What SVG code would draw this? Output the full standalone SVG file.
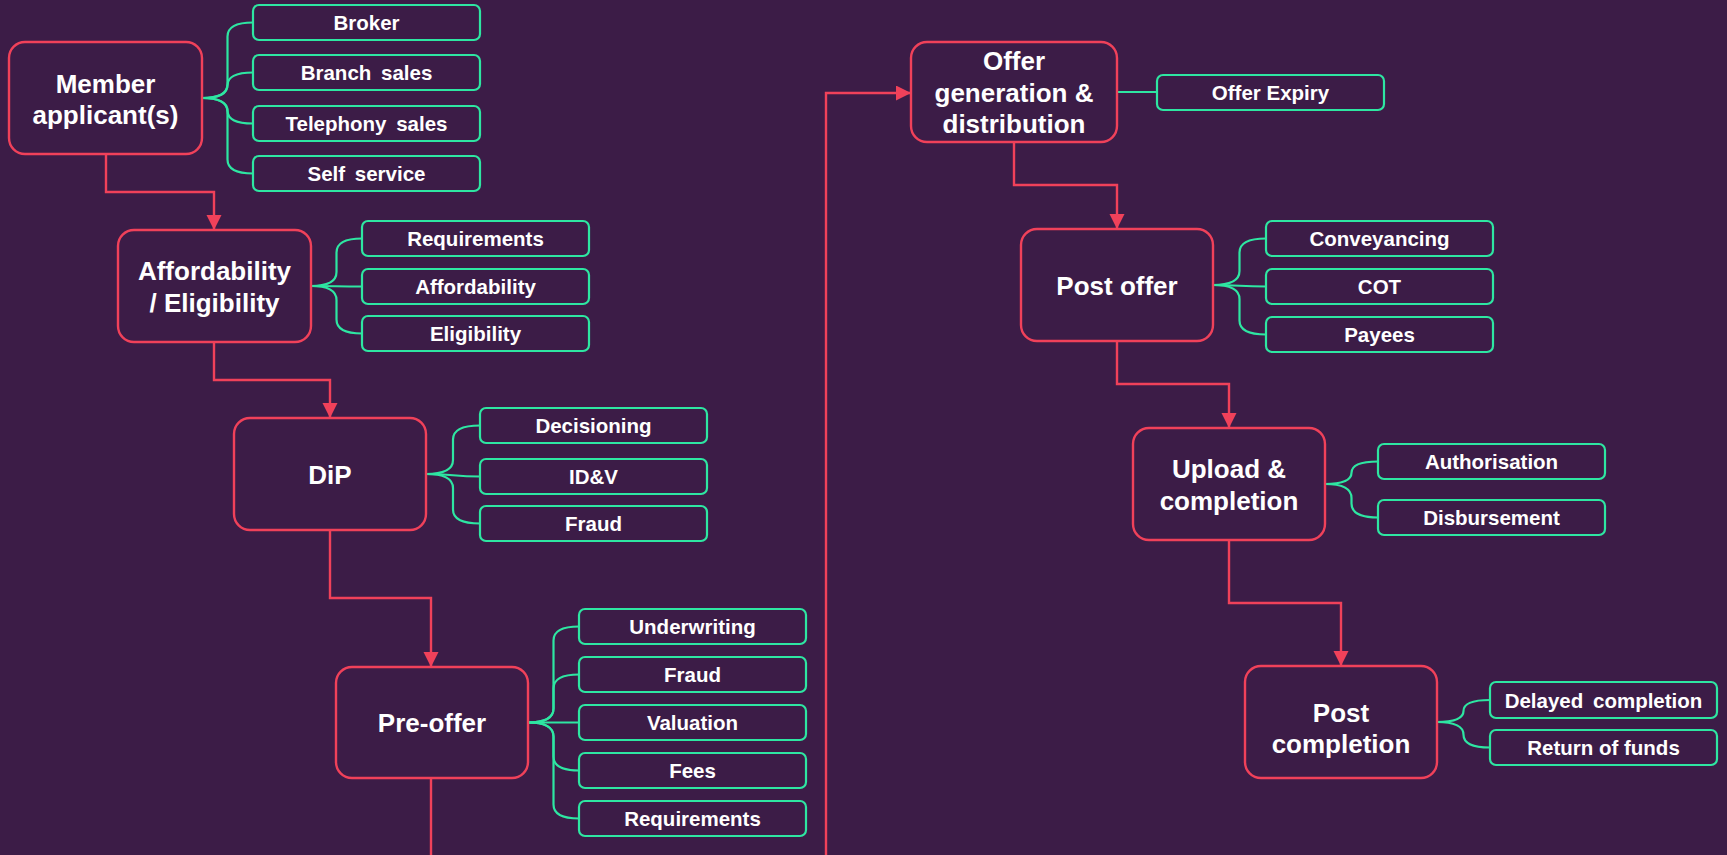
<svg xmlns="http://www.w3.org/2000/svg" width="1727" height="855" viewBox="0 0 1727 855">
<style>
.bg{fill:#3c1c47}
.node rect.main{fill:#3c1c47;stroke:#f0415a;stroke-width:2.4}
.node rect.sub{fill:#3c1c47;stroke:#2ee6a2;stroke-width:2.2}
.nt{font-family:"Liberation Sans",Arial,sans-serif;font-weight:bold;font-size:26px;fill:#ffffff;text-anchor:middle}
.st{font-family:"Liberation Sans",Arial,sans-serif;font-weight:bold;font-size:20.5px;fill:#ffffff;text-anchor:middle}
.ws{word-spacing:4px}
.flow path{fill:none;stroke:#f0415a;stroke-width:2.4;marker-end:url(#arr)}
.branch path{fill:none;stroke:#2ee6a2;stroke-width:2.2}
</style>
<defs>
<marker id="arr" markerUnits="userSpaceOnUse" markerWidth="16" markerHeight="16" refX="15" refY="7.5" orient="auto">
<path d="M0,0 L15,7.5 L0,15 z" fill="#f0415a"/>
</marker>
</defs>
<rect class="bg" x="0" y="0" width="1727" height="855"/>

<g id="connectors">
<g class="flow">
<path d="M106,154 V192 H214 V230"/>
<path d="M214,342 V380 H330 V418"/>
<path d="M330,530 V598 H431 V667"/>
<path d="M431,778 V875 H826 V93 H911"/>
<path d="M1014,142 V185 H1117 V229"/>
<path d="M1117,341 V384 H1229 V428"/>
<path d="M1229,540 V603 H1341 V666"/>
</g>
<g class="branch">
<path d="M202,98 Q227.5,98 227.5,84 V36.5 Q227.5,22.5 253,22.5"/>
<path d="M202,98 Q227.5,98 227.5,85.25 Q227.5,72.5 253,72.5"/>
<path d="M202,98 Q227.5,98 227.5,110.75 Q227.5,123.5 253,123.5"/>
<path d="M202,98 Q227.5,98 227.5,112 V159.5 Q227.5,173.5 253,173.5"/>

<path d="M311,286 Q336.5,286 336.5,272 V252.5 Q336.5,238.5 362,238.5"/>
<path d="M311,286 C336.5,286 336.5,286.5 362,286.5"/>
<path d="M311,286 Q336.5,286 336.5,300 V319.5 Q336.5,333.5 362,333.5"/>

<path d="M426,474 Q453,474 453,460 V439.5 Q453,425.5 480,425.5"/>
<path d="M426,474 C453,474 453,476.5 480,476.5"/>
<path d="M426,474 Q453,474 453,488 V509.5 Q453,523.5 480,523.5"/>

<path d="M528,722.5 Q553.5,722.5 553.5,708.5 V640.5 Q553.5,626.5 579,626.5"/>
<path d="M528,722.5 Q553.5,722.5 553.5,708.5 V688.5 Q553.5,674.5 579,674.5"/>
<path d="M528,722.5 H579"/>
<path d="M528,722.5 Q553.5,722.5 553.5,736.5 V756.5 Q553.5,770.5 579,770.5"/>
<path d="M528,722.5 Q553.5,722.5 553.5,736.5 V804.5 Q553.5,818.5 579,818.5"/>

<path d="M1117,92 H1157"/>

<path d="M1213,285 Q1239.5,285 1239.5,271 V252.5 Q1239.5,238.5 1266,238.5"/>
<path d="M1213,285 C1239.5,285 1239.5,286.5 1266,286.5"/>
<path d="M1213,285 Q1239.5,285 1239.5,299 V320.5 Q1239.5,334.5 1266,334.5"/>

<path d="M1325,484 Q1351.5,484 1351.5,472.75 Q1351.5,461.5 1378,461.5"/>
<path d="M1325,484 Q1351.5,484 1351.5,498 V503.5 Q1351.5,517.5 1378,517.5"/>

<path d="M1437,722 Q1463.5,722 1463.5,711 Q1463.5,700 1490,700"/>
<path d="M1437,722 Q1463.5,722 1463.5,734.75 Q1463.5,747.5 1490,747.5"/>
</g>
</g>

<g id="member" class="node"><rect class="main" x="9" y="42" width="193" height="112" rx="16"/><text class="nt" x="105.5" y="93">Member</text><text class="nt" x="105.5" y="124">applicant(s)</text></g>
<g id="broker" class="node"><rect class="sub" x="253" y="5" width="227" height="35" rx="6"/><text class="st" x="366.5" y="30">Broker</text></g>
<g id="branch" class="node"><rect class="sub" x="253" y="55" width="227" height="35" rx="6"/><text class="st ws" x="366.5" y="80">Branch sales</text></g>
<g id="telephony" class="node"><rect class="sub" x="253" y="106" width="227" height="35" rx="6"/><text class="st ws" x="366.5" y="131">Telephony sales</text></g>
<g id="self" class="node"><rect class="sub" x="253" y="156" width="227" height="35" rx="6"/><text class="st ws" x="366.5" y="181">Self service</text></g>

<g id="afford" class="node"><rect class="main" x="118" y="230" width="193" height="112" rx="16"/><text class="nt" x="214.5" y="280">Affordability</text><text class="nt" x="214.5" y="312">/ Eligibility</text></g>
<g id="a-req" class="node"><rect class="sub" x="362" y="221" width="227" height="35" rx="6"/><text class="st" x="475.5" y="246">Requirements</text></g>
<g id="a-aff" class="node"><rect class="sub" x="362" y="269" width="227" height="35" rx="6"/><text class="st" x="475.5" y="294">Affordability</text></g>
<g id="a-elig" class="node"><rect class="sub" x="362" y="316" width="227" height="35" rx="6"/><text class="st" x="475.5" y="341">Eligibility</text></g>

<g id="dip" class="node"><rect class="main" x="234" y="418" width="192" height="112" rx="16"/><text class="nt" x="330" y="484">DiP</text></g>
<g id="d-dec" class="node"><rect class="sub" x="480" y="408" width="227" height="35" rx="6"/><text class="st" x="593.5" y="433">Decisioning</text></g>
<g id="d-idv" class="node"><rect class="sub" x="480" y="459" width="227" height="35" rx="6"/><text class="st" x="593.5" y="484">ID&amp;V</text></g>
<g id="d-fraud" class="node"><rect class="sub" x="480" y="506" width="227" height="35" rx="6"/><text class="st" x="593.5" y="531">Fraud</text></g>

<g id="preoffer" class="node"><rect class="main" x="336" y="667" width="192" height="111" rx="16"/><text class="nt" x="432" y="732">Pre-offer</text></g>
<g id="p-under" class="node"><rect class="sub" x="579" y="609" width="227" height="35" rx="6"/><text class="st" x="692.5" y="634">Underwriting</text></g>
<g id="p-fraud" class="node"><rect class="sub" x="579" y="657" width="227" height="35" rx="6"/><text class="st" x="692.5" y="682">Fraud</text></g>
<g id="p-val" class="node"><rect class="sub" x="579" y="705" width="227" height="35" rx="6"/><text class="st" x="692.5" y="730">Valuation</text></g>
<g id="p-fees" class="node"><rect class="sub" x="579" y="753" width="227" height="35" rx="6"/><text class="st" x="692.5" y="778">Fees</text></g>
<g id="p-req" class="node"><rect class="sub" x="579" y="801" width="227" height="35" rx="6"/><text class="st" x="692.5" y="826">Requirements</text></g>

<g id="offer" class="node"><rect class="main" x="911" y="42" width="206" height="100" rx="16"/><text class="nt" x="1014" y="70">Offer</text><text class="nt" x="1014" y="102">generation &amp;</text><text class="nt" x="1014" y="133">distribution</text></g>
<g id="o-exp" class="node"><rect class="sub" x="1157" y="75" width="227" height="35" rx="6"/><text class="st" x="1270.5" y="100">Offer Expiry</text></g>

<g id="postoffer" class="node"><rect class="main" x="1021" y="229" width="192" height="112" rx="16"/><text class="nt" x="1117" y="295">Post offer</text></g>
<g id="po-conv" class="node"><rect class="sub" x="1266" y="221" width="227" height="35" rx="6"/><text class="st" x="1379.5" y="246">Conveyancing</text></g>
<g id="po-cot" class="node"><rect class="sub" x="1266" y="269" width="227" height="35" rx="6"/><text class="st" x="1379.5" y="294">COT</text></g>
<g id="po-pay" class="node"><rect class="sub" x="1266" y="317" width="227" height="35" rx="6"/><text class="st" x="1379.5" y="342">Payees</text></g>

<g id="upload" class="node"><rect class="main" x="1133" y="428" width="192" height="112" rx="16"/><text class="nt" x="1229" y="478">Upload &amp;</text><text class="nt" x="1229" y="510">completion</text></g>
<g id="u-auth" class="node"><rect class="sub" x="1378" y="444" width="227" height="35" rx="6"/><text class="st" x="1491.5" y="469">Authorisation</text></g>
<g id="u-disb" class="node"><rect class="sub" x="1378" y="500" width="227" height="35" rx="6"/><text class="st" x="1491.5" y="525">Disbursement</text></g>

<g id="postcomp" class="node"><rect class="main" x="1245" y="666" width="192" height="112" rx="16"/><text class="nt" x="1341" y="722">Post</text><text class="nt" x="1341" y="753">completion</text></g>
<g id="pc-del" class="node"><rect class="sub" x="1490" y="682" width="227" height="36" rx="6"/><text class="st ws" x="1603.5" y="707.5">Delayed completion</text></g>
<g id="pc-ret" class="node"><rect class="sub" x="1490" y="730" width="227" height="35" rx="6"/><text class="st" x="1603.5" y="755">Return of funds</text></g>
</svg>
